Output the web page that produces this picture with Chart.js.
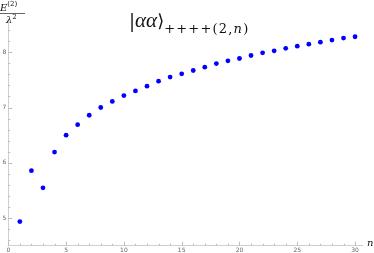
<!DOCTYPE html>
<html>
<head>
<meta charset="utf-8">
<script src="https://cdn.jsdelivr.net/npm/chart.js@4/dist/chart.umd.min.js"></script>
<style>
html,body{margin:0;padding:0;background:#fff;}
#wrap{position:relative;width:374px;height:253px;overflow:hidden;}
canvas{position:absolute;left:0;top:0;}
.t{position:absolute;font-family:"DejaVu Serif","Liberation Serif",serif;color:#111;white-space:nowrap;line-height:1;}
</style>
</head>
<body>
<div id="wrap">
<canvas id="c" width="374" height="253"></canvas>
<div class="t" id="title" style="left:129px;top:10px;font-size:18px;">|<i style="font-family:'Liberation Serif',serif;font-size:21px;">αα</i>⟩<span style="font-size:13px;letter-spacing:1.2px;position:relative;top:6px;">++++(2,<i>n</i>)</span></div>
<div class="t" style="left:0px;top:2px;font-size:10px;"><i>E</i><sup style="font-size:7px;position:relative;top:-1px;">(2)</sup></div>
<div style="position:absolute;left:0;top:13px;width:25px;height:0;border-top:1px solid #666;"></div>
<div class="t" style="left:6px;top:14px;font-size:10px;"><i>λ</i><sup style="font-size:7px;">2</sup></div>
<div class="t" style="left:367px;top:238px;font-size:10px;"><i>n</i></div>
</div>
<script>
const nValues = [1,2,3,4,5,6,7,8,9,10,11,12,13,14,15,16,17,18,19,20,21,22,23,24,25,26,27,28,29,30];
const energyValues = [4.94,5.86,5.55,6.195,6.50,6.69,6.86,7.00,7.11,7.215,7.30,7.386,7.476,7.549,7.608,7.668,7.729,7.794,7.843,7.885,7.939,7.987,8.023,8.068,8.108,8.144,8.18,8.217,8.253,8.278];
const xTicks = [0,5,10,15,20,25,30];
const yTicks = [5,6,7,8];

const points = nValues.map((n,i)=>({x:n,y:energyValues[i]}));

const tickPlugin = {
  id:'inwardTicks',
  afterDraw(chart){
    const ctx = chart.ctx, xs = chart.scales.x, ys = chart.scales.y;
    ctx.save();
    ctx.strokeStyle = '#bdbdbd';
    ctx.lineWidth = 1;
    const bottom = ys.getPixelForValue(ys.min);
    const left = xs.getPixelForValue(xs.min);
    for (let v=0; v<=30; v+=1){
      const px = Math.round(xs.getPixelForValue(v))+0.5;
      const len = (v%5===0)?4:2;
      ctx.beginPath(); ctx.moveTo(px,bottom); ctx.lineTo(px,bottom-len); ctx.stroke();
    }
    for (let k=23; k<=42; k++){
      const v = k/5;
      if (v < ys.min || v > ys.max) continue;
      const py = Math.round(ys.getPixelForValue(v))+0.5;
      const len = (k%5===0)?4:2;
      ctx.beginPath(); ctx.moveTo(left,py); ctx.lineTo(left+len,py); ctx.stroke();
    }
    ctx.restore();
  }
};

new Chart(document.getElementById('c'), {
  type:'scatter',
  data:{datasets:[{data:points,backgroundColor:'#0000ff',borderWidth:0,pointRadius:2.4,pointHoverRadius:2.4}]},
  options:{
    responsive:false,animation:false,
    layout:{padding:{top:20,right:12,left:0,bottom:0}},
    plugins:{legend:{display:false},tooltip:{enabled:false},title:{display:false}},
    scales:{
      x:{type:'linear',min:0,max:30.6,
        afterBuildTicks:(s)=>{s.ticks = xTicks.map(v=>({value:v}));},
        afterFit:(s)=>{s.height=7.3;},
        ticks:{font:{size:6,family:'DejaVu Sans'},color:'#666',padding:1.5,maxRotation:0,autoSkip:false},
        grid:{display:true,drawOnChartArea:false,drawTicks:false},
        border:{color:'#cfcfcf',width:1}},
      y:{type:'linear',min:4.505,max:8.58,
        afterBuildTicks:(s)=>{s.ticks = yTicks.map(v=>({value:v}));},
        afterFit:(s)=>{s.width=8.3;},
        ticks:{font:{size:6,family:'DejaVu Sans'},color:'#666',padding:2,autoSkip:false},
        grid:{display:true,drawOnChartArea:false,drawTicks:false},
        border:{color:'#cfcfcf',width:1}}
    }
  },
  plugins:[tickPlugin]
});
</script>
</body>
</html>
